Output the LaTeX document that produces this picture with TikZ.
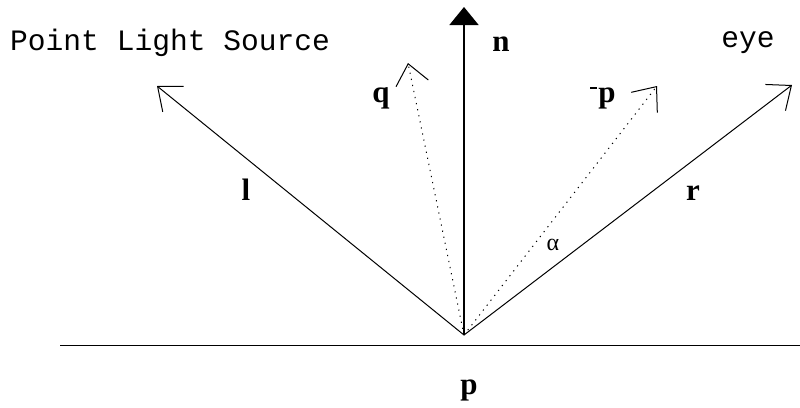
\documentclass[tikz,border=0pt]{standalone}
\usepackage{fontspec}
\setmainfont{Liberation Serif}
\newfontfamily\courier{Liberation Mono}
\usetikzlibrary{arrows.meta}

\tikzset{
    vec/.style={line width=1pt, -{Straight Barb[length=20pt,width=33pt,line width=1pt]}},
    dotvec/.style={vec, dash pattern=on 1.2pt off 5pt},
    lbl/.style={font=\fontsize{31}{32}\selectfont\bfseries, inner sep=0pt},
}

\begin{document}
\begin{tikzpicture}[x=1pt, y=-1pt]
    \useasboundingbox (0,0) rectangle (800,407);

    \coordinate (P) at (464, 335);
    \coordinate (L) at (157, 86);
    \coordinate (Q) at (408, 63);
    \coordinate (N) at (464, 7);
    \coordinate (MP) at (657, 86);
    \coordinate (R) at (792, 85);
    \coordinate (G1) at (60, 345);
    \coordinate (G2) at (800, 345);

    \node[font=\courier\fontsize{29.6}{30}\selectfont, anchor=west, inner sep=0pt] at (10, 43) (src) {Point Light Source};
    \node[font=\courier\fontsize{29.6}{30}\selectfont, inner sep=0pt] at (748, 43) (eye) {eye};
    \node[lbl] at (501, 44) (n) {n};
    \node[lbl] at (381, 98) (q) {q};
    \node[lbl] at (603, 98) (mp) {\rule[0.42em]{7pt}{1.5pt}\kern1pt p};
    \node[lbl] at (246, 190) (l) {l};
    \node[lbl] at (693, 193) (r) {r};
    \node[font=\fontsize{24}{24}\selectfont, inner sep=0pt] at (553, 245) (a) {α};
    \node[lbl] at (469, 390) (p) {p};

    \draw[line width=1pt] (G1) -- (G2);
    \draw[line width=1.6pt, -{Triangle[length=18pt,width=29pt]}] (P) -- (N);
    \draw[vec] (P) -- (L);
    \draw[vec] (P) -- (R);
    \draw[dotvec] (P) -- (Q);
    \draw[dotvec] (P) -- (MP);
\end{tikzpicture}
\end{document}
